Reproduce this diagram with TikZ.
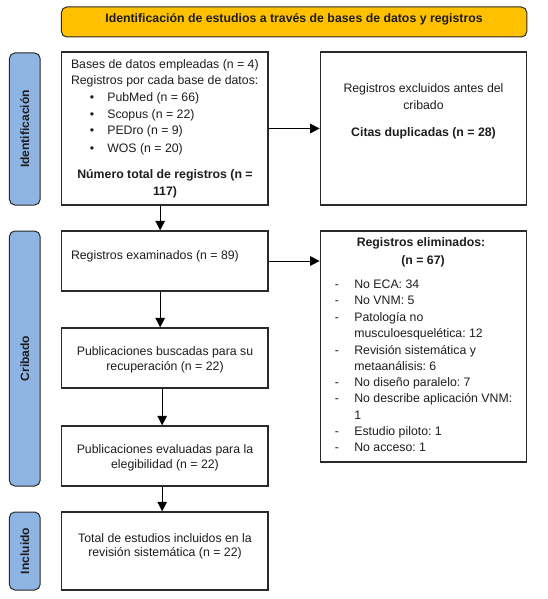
\documentclass[tikz,border=0pt]{standalone}
\usepackage{fontspec}
\setmainfont{Liberation Sans}
\usetikzlibrary{arrows.meta}
\definecolor{hdr}{HTML}{FFC000}
\definecolor{side}{HTML}{8EB4E3}
\definecolor{ink}{HTML}{1E1E1E}
\definecolor{edge}{HTML}{2A2A2A}
\frenchspacing
\begin{document}
\begin{tikzpicture}[x=1pt,y=-1pt,
  every node/.style={font=\fontsize{12.3}{14}\selectfont\frenchspacing, text=ink, inner sep=0pt},
  box/.style={draw=edge, line width=1.3pt, fill=white, minimum width=206.5pt},
  sidebox/.style={draw=edge, line width=1pt, fill=side, rounded corners=5.5pt, minimum width=30.7pt},
  sidetext/.style={rotate=90, font=\fontsize{12.1}{14}\selectfont\bfseries},
  txt/.style={anchor=mid west},
  ctxt/.style={anchor=mid},
  btxt/.style={anchor=mid, font=\fontsize{12.3}{14}\selectfont\bfseries\frenchspacing},
  conn/.style={draw=black, line width=1pt, -{Triangle[length=9.5pt,width=9.5pt]}}
]
\useasboundingbox (0,0) rectangle (547,599);
\fill[white] (0,0) rectangle (547,599);

% header
\node[draw=edge, line width=1pt, fill=hdr, rounded corners=5.5pt, minimum width=465.4pt, minimum height=30pt] (hdr) at (294.1,22) {};
\node[btxt] (hdrt) at (294,19.5) {Identificación de estudios a través de bases de datos y registros};

% side labels
\node[sidebox, minimum height=152pt] (sid) at (24.75,129) {};
\node[sidetext] (sidt) at (24.75,129) {Identificación};
\node[sidebox, minimum height=255pt] (scr) at (24.75,358.5) {};
\node[sidetext] (scrt) at (24.75,358.5) {Cribado};
\node[sidebox, minimum height=78pt] (sin) at (24.75,551) {};
\node[sidetext] (sint) at (24.75,551) {Incluido};

% boxes
\node[box, minimum height=153pt] (b1) at (164.65,128.5) {};
\node[box, minimum height=153pt] (b2) at (423.55,128.5) {};
\node[box, minimum height=60pt] (b3) at (164.65,261) {};
\node[box, minimum height=231pt] (b4) at (423.55,346.5) {};
\node[box, minimum height=60pt] (b5) at (164.65,358) {};
\node[box, minimum height=60pt] (b6) at (164.65,456) {};
\node[box, minimum height=78pt] (b7) at (164.65,551) {};

% box 1 text
\node[txt] (t11) at (70.8,65.5) {Bases de datos empleadas (n = 4)};
\node[txt] (t12) at (70.8,82) {Registros por cada base de datos:};
\node[ctxt] (u1) at (92,98.5) {•};
\node[txt] (t13) at (107.1,98.5) {PubMed (n = 66)};
\node[ctxt] (u2) at (92,115.5) {•};
\node[txt] (t14) at (107.1,115.5) {Scopus (n = 22)};
\node[ctxt] (u3) at (92,132) {•};
\node[txt] (t15) at (107.1,132) {PEDro (n = 9)};
\node[ctxt] (u4) at (92,150) {•};
\node[txt] (t16) at (107.1,150) {WOS (n = 20)};
\node[btxt] (t17) at (165,176) {Número total de registros (n =};
\node[btxt] (t18) at (165,193) {117)};

% box 2 text
\node[ctxt] (t21) at (423.5,90) {Registros excluidos antes del};
\node[ctxt] (t22) at (423.5,106.5) {cribado};
\node[btxt] (t23) at (423.5,133.5) {Citas duplicadas (n = 28)};

% box 3 text
\node[txt] (t31) at (70.8,257) {Registros examinados (n = 89)};

% box 4 text
\node[btxt] (t41) at (421,244) {Registros eliminados:};
\node[btxt] (t42) at (423,262) {(n = 67)};
\foreach \yy/\tx/\dd in {286/No ECA: 34/1, 302.3/No VNM: 5/1, 319/Patología no/1, 335.3/musculoesquelética: 12/0, 351.7/Revisión sistemática y/1, 367.7/metaanálisis: 6/0, 384/No diseño paralelo: 7/1, 400.3/No describe aplicación VNM:/1, 416.7/1/0, 433/Estudio piloto: 1/1, 449.3/No acceso: 1/1}{
  \node[txt] at (354.1,\yy) {\tx};
  \ifnum\dd=1 \node[ctxt] at (337,\yy) {-}; \fi
}

% box 5-7 text
\node[ctxt] (t51) at (165,353) {Publicaciones buscadas para su};
\node[ctxt] (t52) at (165,367.5) {recuperación (n = 22)};
\node[ctxt] (t61) at (165,451) {Publicaciones evaluadas para la};
\node[ctxt] (t62) at (165,465.5) {elegibilidad (n = 22)};
\node[ctxt] (t71) at (165,539.5) {Total de estudios incluidos en la};
\node[ctxt] (t72) at (165,554) {revisión sistemática (n = 22)};

% connectors
\draw[conn] (b1.east) -- (b2.west);
\draw[conn] (b3.east) -- (b3.east -| b4.west);
\draw[conn] ([xshift=-4.5pt]b1.south) -- ([xshift=-4.5pt]b3.north);
\draw[conn] ([xshift=-4.5pt]b3.south) -- ([xshift=-4.5pt]b5.north);
\draw[conn] ([xshift=-2.5pt]b5.south) -- ([xshift=-2.5pt]b6.north);
\draw[conn] ([xshift=-2.5pt]b6.south) -- ([xshift=-2.5pt]b7.north);
\end{tikzpicture}
\end{document}
